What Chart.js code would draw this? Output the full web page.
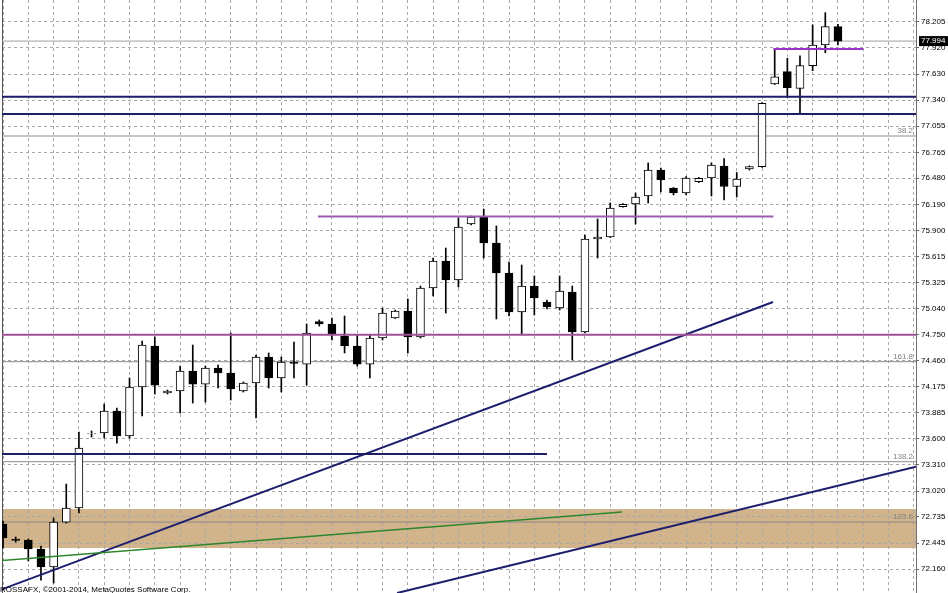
<!DOCTYPE html>
<html>
<head>
<meta charset="utf-8">
<script src="https://cdn.jsdelivr.net/npm/chart.js@4.4.1/dist/chart.umd.min.js"></script>
<style>
  html, body { margin: 0; padding: 0; background: #fff; }
  #wrap { width: 948px; height: 593px; }
</style>
</head>
<body>
<div id="wrap"><canvas id="fxChart"></canvas></div>
<script>
// candles (oldest first)
const opens = [72.657, 72.492, 72.480, 72.381, 72.182, 72.679, 72.834, 73.652, 73.663, 73.906,
  73.630, 74.171, 74.624, 74.105, 74.127, 74.348, 74.204, 74.381, 74.326, 74.127,
  74.216, 74.503, 74.271, 74.448, 74.425, 74.893, 74.868, 74.735, 74.624, 74.425,
  74.713, 74.934, 75.011, 74.724, 75.265, 75.564, 75.354, 75.973, 76.050, 75.763,
  75.431, 75.000, 75.287, 75.111, 75.044, 75.221, 74.779, 75.807, 75.829, 76.164,
  76.194, 76.282, 76.569, 76.370, 76.315, 76.440, 76.481, 76.614, 76.387, 76.580,
  76.606, 77.520, 77.656, 77.472, 77.722, 77.951, 78.153];
const highs = [72.690, 72.514, 72.492, 72.414, 72.724, 73.099, 73.674, 73.685, 73.983, 73.939,
  74.271, 74.680, 74.724, 74.138, 74.403, 74.635, 74.403, 74.414, 74.768, 74.227,
  74.525, 74.547, 74.503, 74.669, 74.868, 74.912, 74.934, 74.956, 74.746, 74.746,
  75.044, 75.022, 75.144, 75.287, 75.597, 75.707, 76.039, 76.061, 76.138, 75.951,
  75.553, 75.519, 75.398, 75.133, 75.398, 75.287, 75.851, 76.028, 76.205, 76.199,
  76.315, 76.647, 76.591, 76.376, 76.497, 76.486, 76.647, 76.696, 76.542, 76.614,
  77.315, 77.906, 77.804, 77.832, 78.172, 78.308, 78.180];
const lows = [72.392, 72.458, 72.248, 72.038, 72.005, 72.668, 72.779, 73.619, 73.608, 73.552,
  73.608, 73.851, 74.094, 74.094, 73.884, 73.994, 74.005, 74.160, 74.028, 74.116,
  73.829, 74.160, 74.116, 74.271, 74.193, 74.845, 74.691, 74.547, 74.403, 74.271,
  74.691, 74.928, 74.547, 74.713, 75.177, 74.989, 75.276, 75.962, 75.597, 74.923,
  74.956, 74.746, 74.967, 75.033, 75.022, 74.470, 74.768, 75.597, 75.823, 76.160,
  75.973, 76.205, 76.326, 76.293, 76.293, 76.431, 76.282, 76.238, 76.271, 76.569,
  76.597, 77.514, 77.373, 77.188, 77.667, 77.866, 77.951];
const closes = [72.503, 72.475, 72.381, 72.182, 72.679, 72.834, 73.497, 73.657, 73.906, 73.630,
  74.171, 74.635, 74.193, 74.127, 74.348, 74.204, 74.381, 74.326, 74.149, 74.216,
  74.503, 74.271, 74.448, 74.431, 74.768, 74.868, 74.746, 74.624, 74.425, 74.713,
  74.989, 75.011, 74.724, 75.265, 75.564, 75.354, 75.939, 76.050, 75.763, 75.431,
  75.000, 75.287, 75.155, 75.055, 75.232, 74.779, 75.807, 75.829, 76.149, 76.190,
  76.271, 76.569, 76.459, 76.315, 76.481, 76.478, 76.625, 76.387, 76.470, 76.606,
  77.306, 77.600, 77.479, 77.722, 77.951, 78.153, 77.994];

// price axis labels
const yTicks = [72.160, 72.445, 72.735, 73.020, 73.310, 73.600, 73.885, 74.175, 74.460, 74.750,
  75.040, 75.325, 75.615, 75.900, 76.190, 76.480, 76.765, 77.055, 77.340, 77.630, 77.920, 78.205];
const yMin = 71.895, yMax = 78.448;
const xMin = -0.08, xMax = 72.17;
const bidPrice = 77.994;

// objects drawn on the chart (bar index, price)
const upTrend = [[-0.24, 71.928], [60.87, 75.111]];
const lowTrend = [[31.15, 71.895], [72.17, 73.290]];
const greenTrend = [[-0.24, 72.252], [48.93, 72.790]];
const navyLevels = [77.379, 77.188];
const navyShort = [[-0.5, 73.431], [43.0, 73.431]];
const purpleLevel = 74.750;
const purpleMid = [[24.9, 76.055], [60.9, 76.055]];
const purpleTop = [[60.9, 77.906], [68.0, 77.906]];
const fiboLevels = [76.945, 74.451, 73.346, 72.679];
const fiboNames = ['38.2', '161.8', '138.2', '123.6'];
const bandRange = [72.392, 72.823];

const xGrid = Array.from({ length: 37 }, (_, k) => 2 * k);
const labelFont = { family: 'Liberation Sans', size: 8 };

function seg(points, color, width, order) {
  return {
    type: 'line',
    data: points.map(p => ({ x: p[0], y: p[1] })),
    borderColor: color,
    borderWidth: width,
    pointRadius: 0,
    fill: false,
    tension: 0,
    order: order,
    xAxisID: 'x',
    yAxisID: 'y'
  };
}
function level(v, color, width, order) {
  return seg([[xMin, v], [xMax, v]], color, width, order);
}

const wicks = {
  type: 'bar',
  data: lows.map((l, i) => ({ x: i, y: [l, highs[i]] })),
  backgroundColor: '#000',
  borderWidth: 0,
  barThickness: 1,
  grouped: false,
  order: 3,
  xAxisID: 'x',
  yAxisID: 'y'
};
const bodies = {
  type: 'bar',
  data: opens.map((o, i) => ({ x: i, y: [o, closes[i]] })),
  backgroundColor: ctx => closes[ctx.dataIndex] >= opens[ctx.dataIndex] ? '#fff' : '#000',
  borderColor: '#000',
  borderWidth: 1,
  borderSkipped: false,
  barThickness: 8,
  grouped: false,
  order: 2,
  xAxisID: 'x',
  yAxisID: 'y'
};

const datasets = [wicks, bodies];
datasets.push(level(bidPrice, '#a0a0a0', 1, 4));
fiboLevels.forEach(v => datasets.push(level(v, '#8a8a8a', 1, 4)));
navyLevels.forEach(v => datasets.push(level(v, '#1e1e66', 2, 1)));
datasets.push(seg(navyShort, '#1e1e66', 2, 1));
datasets.push(level(purpleLevel, '#a0509a', 2, 1));
datasets.push(seg(purpleMid, '#9a5cb0', 2, 1));
datasets.push(seg(purpleTop, '#9933cc', 2, 1));
datasets.push(seg(greenTrend, '#2d862d', 1.5, 1));
datasets.push(seg(upTrend, '#1e1e6e', 2, 1));
datasets.push(seg(lowTrend, '#1e1e6e', 2, 1));

// band behind the grid, price marks and texts on top
const overlay = {
  id: 'overlay',
  beforeDraw(chart) {
    const { ctx, chartArea: a, scales: { y } } = chart;
    const top = y.getPixelForValue(bandRange[1]);
    const bot = y.getPixelForValue(bandRange[0]);
    ctx.save();
    ctx.fillStyle = '#d2b48c';
    ctx.fillRect(a.left, top, a.right - a.left, bot - top);
    ctx.restore();
  },
  afterDraw(chart) {
    const { ctx, chartArea: a, scales: { y } } = chart;
    ctx.save();
    ctx.font = '8px "Liberation Sans"';
    ctx.fillStyle = '#808080';
    ctx.textAlign = 'right';
    ctx.textBaseline = 'bottom';
    fiboLevels.forEach((v, i) => ctx.fillText(fiboNames[i], a.right - 3, y.getPixelForValue(v) - 1));

    const py = y.getPixelForValue(bidPrice);
    ctx.fillStyle = '#000';
    ctx.fillRect(a.right + 3, py - 5, 29, 10);
    ctx.fillStyle = '#fff';
    ctx.textAlign = 'left';
    ctx.textBaseline = 'middle';
    ctx.fillText(bidPrice.toFixed(3), a.right + 5, py);

    ctx.fillStyle = '#000';
    ctx.textBaseline = 'top';
    ctx.fillText('ROSSAFX, \u00a92001-2014, MetaQuotes Software Corp.', 0, 586);
    ctx.restore();
  }
};

new Chart(document.getElementById('fxChart'), {
  type: 'bar',
  data: { datasets: datasets },
  plugins: [overlay],
  options: {
    responsive: true,
    maintainAspectRatio: false,
    animation: false,
    layout: { padding: 0 },
    plugins: { legend: { display: false }, tooltip: { enabled: false } },
    scales: {
      x: {
        type: 'linear',
        min: xMin,
        max: xMax,
        offset: false,
        afterBuildTicks: s => { s.ticks = xGrid.map(v => ({ value: v })); },
        ticks: { display: false },
        grid: { color: '#a8a8a8', drawTicks: false, offset: false },
        border: { display: false, dash: [3, 3] }
      },
      y: {
        type: 'linear',
        position: 'right',
        min: yMin,
        max: yMax,
        beginAtZero: false,
        afterBuildTicks: s => { s.ticks = yTicks.map(v => ({ value: v })); },
        afterFit: s => { s.width = 32; s.paddingTop = 0; s.paddingBottom = 0; },
        ticks: {
          autoSkip: false,
          padding: 2,
          color: '#000',
          font: labelFont,
          callback: v => Number(v).toFixed(3)
        },
        grid: { color: '#a8a8a8', tickLength: 3, tickColor: '#666' },
        border: { display: true, color: '#707070', width: 1, dash: [3, 3] }
      },
      yl: {
        type: 'linear',
        position: 'left',
        min: yMin,
        max: yMax,
        afterFit: s => { s.width = 2; s.paddingTop = 0; s.paddingBottom = 0; },
        ticks: { display: false },
        grid: { display: false, drawOnChartArea: false, drawTicks: false },
        border: { display: true, color: '#555', width: 1 }
      }
    }
  }
});
</script>
</body>
</html>
